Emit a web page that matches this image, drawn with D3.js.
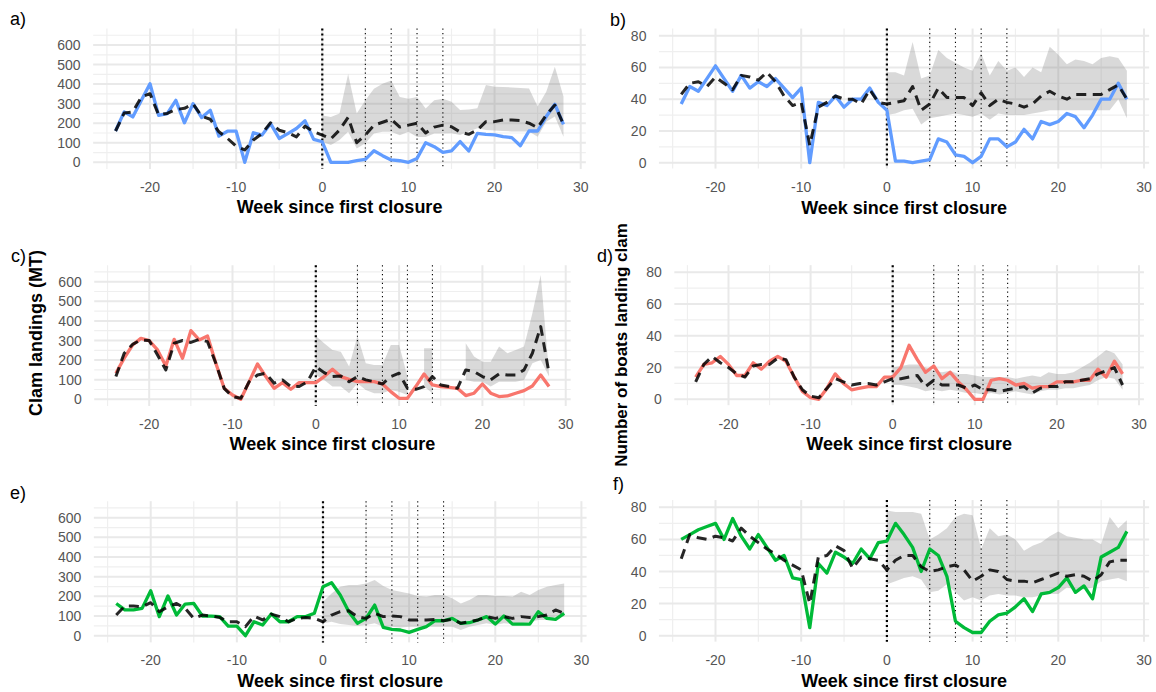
<!DOCTYPE html>
<html>
<head>
<meta charset="utf-8">
<script src="https://cdn.jsdelivr.net/npm/d3@7"></script>
<style>
  body { margin: 0; background: #fff; }
  svg text { font-family: "Liberation Sans", Arial, sans-serif; }
</style>
</head>
<body>
<svg id="fig" width="1156" height="692"></svg>
<script>
// Weeks relative to the first closure
const weeks = d3.range(-24, 29);
const bandWeeks = d3.range(0, 29);
const closureWeeks = [0, 5, 8, 11, 14];
const xMajor = [-20, -10, 0, 10, 20, 30];
const xMinor = [-25, -15, -5, 5, 15, 25];
const tonTicks = [0, 100, 200, 300, 400, 500, 600];
const tonMinor = [50, 150, 250, 350, 450, 550, 650];
const boatTicks = [0, 20, 40, 60, 80];
const boatMinor = [10, 30, 50, 70];

// a) landings (MT), region 1
const aObs = [160,258,232,317,402,240,249,317,202,300,229,266,134,159,159,0,151,139,198,122,147,173,212,117,
              105,0,0,0,8,15,59,34,12,8,0,20,100,80,51,58,106,58,148,143,140,131,126,85,160,160,234,297,194];
const aCf  = [160,252,258,334,351,243,250,270,276,298,235,220,156,122,82,63,114,147,202,164,151,130,185,156,
              139,120,165,230,100,140,190,205,220,180,190,200,150,180,190,182,155,143,165,208,208,216,216,213,200,177,242,293,194];
const aLo  = [105,88,114,156,71,97,147,156,156,139,156,130,130,147,147,148,140,157,174,165,163,160,158,157,157,131,208,234,131];
const aHi  = [240,232,249,452,249,317,376,402,419,334,325,334,275,317,325,310,268,270,276,396,387,385,383,380,378,285,361,489,336];

// b) boats, region 1
const bObs = [37,48,45,53,61,53,45,55,47,51,48,53,47,41,47,0,38,36,42,35,40,40,47,38,
              33,1,1,0,1,2,15,13,5,4,0,4,15,15,10,13,21,15,26,24,26,31,29,22,30,40,40,50,40];
const bCf  = [43,50,51,48,54,50,46,55,54,52,57,51,42,36,38,11,35,38,42,40,40,37,46,38,
              37,38,39,48,33,37,47,41,41,41,36,44,36,40,38,37,35,37,42,45,42,40,43,43,43,43,46,49,40];
const bLo  = [30,31,33,34,24,28,29,30,31,30,29,31,27,31,30,30,30,31,32,33,33,33,33,33,33,33,33,40,28];
const bHi  = [57,57,55,76,53,55,71,66,63,60,58,69,55,64,58,60,54,60,57,73,68,62,65,64,62,66,67,66,58];

// c) landings (MT), region 2
const cObs = [133,210,277,311,299,252,170,306,209,350,303,323,184,56,22,0,90,180,116,56,85,51,85,85,
              85,116,153,116,102,90,90,90,78,39,5,5,65,129,73,65,61,56,19,31,78,31,14,17,31,44,68,124,65];
const cCf  = [116,235,280,303,300,226,150,286,300,290,306,294,184,56,14,5,90,124,133,82,99,65,65,90,
              167,136,116,119,90,116,99,90,78,116,133,56,51,65,116,73,65,56,150,141,116,99,129,124,124,150,235,371,133];
const cLo  = [124,99,65,65,31,82,48,31,31,48,39,22,null,65,31,null,null,null,99,90,90,65,90,90,90,99,184,201,116];
const cHi  = [323,286,252,243,167,323,184,175,175,277,277,116,null,260,260,null,null,null,286,218,192,192,269,235,252,269,439,634,133];

// d) boats, region 2
const dObs = [14,22,23,27,22,15,15,23,19,24,27,24,14,5,1,0,7,16,10,6,7,8,8,14,
              14,20,34,25,17,21,13,17,11,6,0,0,12,13,12,9,10,7,8,8,11,11,11,12,12,19,14,24,16];
const dCf  = [11,22,27,23,20,16,14,21,22,22,26,25,14,6,2,1,7,13,11,9,10,10,9,11,
              13,13,14,15,8,12,9,9,9,7,9,6,6,5,6,7,8,4,7,8,8,11,11,12,13,16,18,20,9];
const dLo  = [9,9,8,7,5,6,5,6,5,4,4,3,4,3,4,5,4,3,5,6,6,7,7,8,9,12,14,13,6];
const dHi  = [20,21,22,22,20,18,17,18,16,16,15,14,14,14,14,13,14,15,14,17,16,16,17,20,23,27,31,29,22];

// e) landings (MT), region 3
const eObs = [164,131,131,139,229,97,202,105,161,164,100,100,97,49,49,0,71,54,110,71,71,97,97,114,
              249,269,207,122,63,88,156,42,32,29,17,32,46,76,76,88,63,66,80,97,59,100,59,59,59,122,88,83,114];
const eCf  = [105,151,151,147,168,122,147,164,139,88,105,100,93,71,71,46,100,80,110,97,71,88,93,88,
              71,105,122,127,97,88,114,97,100,97,80,80,80,83,76,83,63,71,80,97,88,97,88,97,93,97,105,131,114];
const eLo  = [63,71,59,54,49,54,63,46,46,42,46,46,46,46,46,46,29,46,54,63,54,63,59,63,71,80,80,97,97];
const eHi  = [173,215,249,258,258,266,283,253,232,224,215,202,198,207,207,190,164,181,207,207,202,202,198,224,207,232,249,258,266];

// f) boats, region 3
const fObs = [60,63,66,68,70,60,73,62,54,63,55,47,50,36,35,5,45,39,52,49,45,54,48,58,
              59,70,63,55,40,54,50,37,9,5,2,2,9,13,14,18,23,15,26,27,30,36,27,31,23,49,52,55,65];
const fCf  = [48,63,61,60,62,61,59,67,62,58,54,51,47,44,41,20,49,50,56,53,42,49,48,47,
              41,47,50,50,43,40,41,43,44,41,34,37,41,40,35,34,34,33,35,37,39,37,38,37,34,38,46,47,47];
const fLo  = [32,34,36,37,35,27,28,32,27,22,24,22,25,26,25,25,24,24,25,26,26,30,29,29,30,34,35,36,34];
const fHi  = [78,77,77,77,76,60,63,67,74,76,75,54,67,62,63,60,53,56,58,62,65,62,61,60,60,57,74,67,72];

const colBlue = "#619CFF", colRed = "#F8766D", colGreen = "#00BA38";

// Panel layout: pixel positions of x = -20 / 30 and y = 0 / top tick
const panels = [
  { tag: "a)", obs: aObs, cf: aCf, lo: aLo, hi: aHi, color: colBlue, unit: "ton",
    xr: [150, 580.7], yr: [162.3, 45.0], tagPos: [10, 25] },
  { tag: "b)", obs: bObs, cf: bCf, lo: bLo, hi: bHi, color: colBlue, unit: "boat",
    xr: [715.5, 1144], yr: [162.7, 35.7], tagPos: [610, 26] },
  { tag: "c)", obs: cObs, cf: cCf, lo: cLo, hi: cHi, color: colRed, unit: "ton",
    xr: [149.2, 565.7], yr: [399.3, 281.7], tagPos: [11, 262] },
  { tag: "d)", obs: dObs, cf: dCf, lo: dLo, hi: dHi, color: colRed, unit: "boat",
    xr: [728.5, 1139], yr: [399.3, 272.3], tagPos: [597, 262] },
  { tag: "e)", obs: eObs, cf: eCf, lo: eLo, hi: eHi, color: colGreen, unit: "ton",
    xr: [150.7, 581.4], yr: [635.7, 517.7], tagPos: [10, 499] },
  { tag: "f)", obs: fObs, cf: fCf, lo: fLo, hi: fHi, color: colGreen, unit: "boat",
    xr: [715.5, 1144], yr: [635.7, 507.3], tagPos: [613, 490] }
];

const svg = d3.select("#fig");
svg.append("rect").attr("width", 1156).attr("height", 692).attr("fill", "#fff");

panels.forEach(p => {
  const isTon = p.unit === "ton";
  const topTick = isTon ? 600 : 80;
  const x = d3.scaleLinear().domain([-20, 30]).range(p.xr);
  const y = d3.scaleLinear().domain([0, topTick]).range(p.yr);
  const xExt = [-26.6, 30.6];
  const yExt = isTon ? [-34, 684] : [-3.7, 84.5];
  const left = x(xExt[0]), right = x(xExt[1]);
  const top = y(yExt[1]), bottom = y(yExt[0]);

  const g = svg.append("g");

  // grid
  const yMaj = isTon ? tonTicks : boatTicks;
  const yMin = isTon ? tonMinor : boatMinor;
  g.selectAll(".ymin").data(yMin).join("line")
    .attr("x1", left).attr("x2", right).attr("y1", d => y(d)).attr("y2", d => y(d))
    .attr("stroke", "#efefef").attr("stroke-width", 1.2);
  g.selectAll(".xmin").data(xMinor).join("line")
    .attr("x1", d => x(d)).attr("x2", d => x(d)).attr("y1", top).attr("y2", bottom)
    .attr("stroke", "#efefef").attr("stroke-width", 1.2);
  g.selectAll(".ymaj").data(yMaj).join("line")
    .attr("x1", left).attr("x2", right).attr("y1", d => y(d)).attr("y2", d => y(d))
    .attr("stroke", "#e9e9e9").attr("stroke-width", 2);
  g.selectAll(".xmaj").data(xMajor).join("line")
    .attr("x1", d => x(d)).attr("x2", d => x(d)).attr("y1", top).attr("y2", bottom)
    .attr("stroke", "#e9e9e9").attr("stroke-width", 2);

  // prediction interval ribbon
  const bandData = bandWeeks.map((w, i) => ({ w, lo: p.lo[i], hi: p.hi[i] }));
  const area = d3.area()
    .defined(d => d.lo != null && d.hi != null)
    .x(d => x(d.w)).y0(d => y(d.lo)).y1(d => y(d.hi));
  g.append("path").datum(bandData).attr("d", area)
    .attr("fill", "#808080").attr("fill-opacity", 0.3);

  // closure markers
  closureWeeks.forEach(w => {
    const first = w === 0;
    g.append("line")
      .attr("x1", x(w)).attr("x2", x(w)).attr("y1", top).attr("y2", bottom)
      .attr("stroke", "#000")
      .attr("stroke-width", first ? 2.2 : 1.1)
      .attr("stroke-dasharray", first ? "2,3" : "1.2,3.2");
  });

  const line = d3.line().x(d => x(d.w)).y(d => y(d.v));
  const obsData = weeks.map((w, i) => ({ w, v: p.obs[i] }));
  const cfData = weeks.map((w, i) => ({ w, v: p.cf[i] }));

  g.append("path").datum(obsData).attr("d", line)
    .attr("fill", "none").attr("stroke", p.color).attr("stroke-width", 3.3)
    .attr("stroke-linejoin", "round");
  g.append("path").datum(cfData).attr("d", line)
    .attr("fill", "none").attr("stroke", "#000").attr("stroke-opacity", 0.85)
    .attr("stroke-width", 3).attr("stroke-dasharray", "10,6.5")
    .attr("stroke-linejoin", "round");

  // axis labels
  g.selectAll(".ytl").data(yMaj).join("text")
    .attr("x", left - 12.5).attr("y", d => y(d)).attr("dy", "0.36em")
    .attr("text-anchor", "end").attr("font-size", 14).attr("fill", "#555")
    .text(d => d);
  g.selectAll(".xtl").data(xMajor).join("text")
    .attr("x", d => x(d)).attr("y", y(0) + 24.2).attr("dy", "0.36em")
    .attr("text-anchor", "middle").attr("font-size", 14).attr("fill", "#555")
    .text(d => d);
  g.append("text")
    .attr("x", (left + right) / 2).attr("y", y(0) + 51)
    .attr("text-anchor", "middle").attr("font-size", 18).attr("font-weight", "bold")
    .attr("fill", "#000").text("Week since first closure");

  g.append("text").attr("x", p.tagPos[0]).attr("y", p.tagPos[1])
    .attr("font-size", 18).attr("fill", "#000").text(p.tag);
});

// shared y-axis titles
svg.append("text")
  .attr("transform", "translate(42,333) rotate(-90)")
  .attr("text-anchor", "middle").attr("font-size", 18).attr("font-weight", "bold")
  .text("Clam landings (MT)");
svg.append("text")
  .attr("transform", "translate(627,345) rotate(-90)")
  .attr("text-anchor", "middle").attr("font-size", 17).attr("font-weight", "bold")
  .text("Number of boats landing clam");
</script>
</body>
</html>
